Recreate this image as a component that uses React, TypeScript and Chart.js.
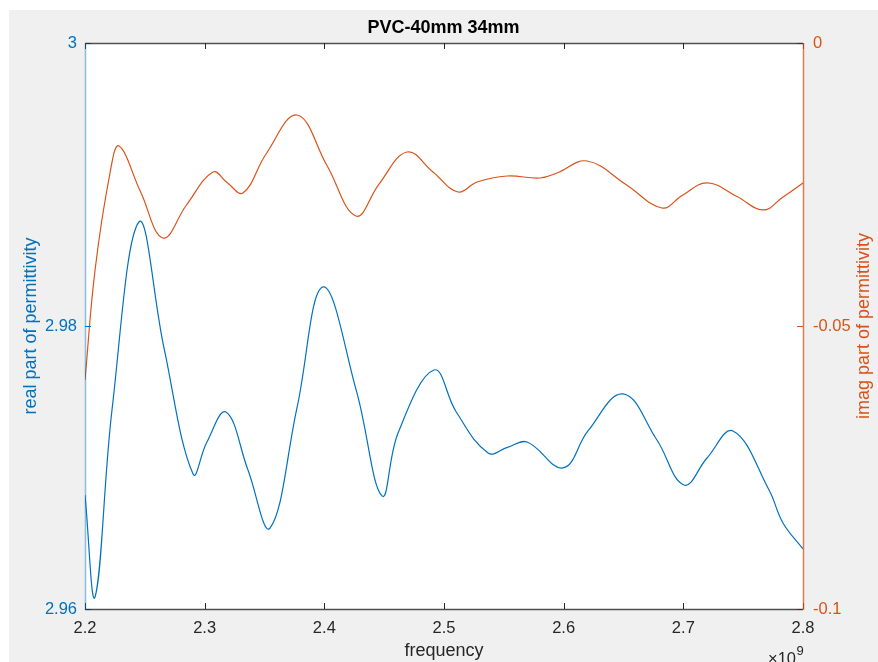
import { useEffect, useRef } from 'react';
import { Chart, registerables } from 'chart.js';

Chart.register(...registerables);

const TITLE = 'PVC-40mm 34mm';
const X_LABEL = 'frequency';
const Y_LEFT_LABEL = 'real part of permittivity';
const Y_RIGHT_LABEL = 'imag part of permittivity';

// frequency in units of 10^9 Hz (read at peaks, troughs and mid-crossings)
const realFreq = [2.2, 2.2084, 2.2226, 2.2451, 2.266, 2.2903, 2.3015, 2.3178, 2.3362, 2.3546, 2.3772, 2.3989, 2.4269, 2.4482, 2.4616, 2.4916, 2.51, 2.5368, 2.553, 2.5694, 2.5994, 2.6203, 2.6496, 2.6777, 2.7006, 2.7198, 2.7415, 2.7716, 2.7833, 2.8];
const realVals = [2.96806, 2.96085, 2.9741, 2.98735, 2.97845, 2.96954, 2.97173, 2.97392, 2.96982, 2.96572, 2.97424, 2.98276, 2.97538, 2.96799, 2.97244, 2.97689, 2.97396, 2.97103, 2.97142, 2.9718, 2.96997, 2.97258, 2.9752, 2.97198, 2.96876, 2.97067, 2.97258, 2.96841, 2.96608, 2.96424];

const imagFreq = [2.2, 2.2084, 2.2209, 2.2284, 2.2465, 2.2652, 2.2848, 2.307, 2.3187, 2.332, 2.3513, 2.3772, 2.4022, 2.4265, 2.4457, 2.4691, 2.4908, 2.5117, 2.5276, 2.5526, 2.5802, 2.5944, 2.6195, 2.652, 2.6822, 2.699, 2.7198, 2.7448, 2.7666, 2.7833, 2.8];
const imagVals = [-0.05954, -0.04011, -0.02297, -0.0182, -0.02633, -0.03445, -0.02862, -0.02279, -0.02465, -0.0265, -0.01961, -0.01272, -0.02165, -0.03057, -0.02492, -0.01926, -0.0228, -0.02633, -0.02456, -0.0235, -0.02385, -0.02297, -0.02085, -0.025, -0.02915, -0.02694, -0.02473, -0.02712, -0.0295, -0.02721, -0.02473];

const xTicks = [2.2, 2.3, 2.4, 2.5, 2.6, 2.7, 2.8];
const xTickLabels = ['2.2', '2.3', '2.4', '2.5', '2.6', '2.7', '2.8'];
const leftTicks = [2.96, 2.98, 3];
const leftTickLabels = ['2.96', '2.98', '3'];
const rightTicks = [-0.1, -0.05, 0];
const rightTickLabels = ['-0.1', '-0.05', '0'];
const X_EXP_BASE = '×10';
const X_EXP_POWER = '9';

const BLUE = '#0072BD';
const ORANGE = '#D95319';
const AXIS = '#262626';
const FONT = "'Liberation Sans', Arial, Helvetica, sans-serif";

function labelFor(values: number[], labels: string[], v: number) {
  let best = 0;
  for (let i = 0; i < values.length; i++) {
    if (Math.abs(values[i] - v) < Math.abs(values[best] - v)) best = i;
  }
  return labels[best];
}

const decor = {
  id: 'matlabDecor',
  beforeDraw(chart: any) {
    const { ctx, chartArea } = chart;
    ctx.save();
    ctx.fillStyle = '#ffffff';
    ctx.fillRect(chartArea.left, chartArea.top, chartArea.right - chartArea.left, chartArea.bottom - chartArea.top);
    ctx.restore();
  },
  afterDraw(chart: any) {
    const { ctx, chartArea, scales } = chart;
    const { left, right, top, bottom } = chartArea;
    ctx.save();
    ctx.lineWidth = 1;
    ctx.strokeStyle = AXIS;
    ctx.beginPath();
    for (const v of xTicks) {
      const px = Math.round(scales.x.getPixelForValue(v)) + 0.5;
      ctx.moveTo(px, bottom);
      ctx.lineTo(px, bottom - 6);
      ctx.moveTo(px, top);
      ctx.lineTo(px, top + 6);
    }
    ctx.stroke();
    ctx.strokeStyle = BLUE;
    ctx.beginPath();
    for (const v of leftTicks) {
      const py = Math.round(scales.y.getPixelForValue(v)) + 0.5;
      ctx.moveTo(left, py);
      ctx.lineTo(left + 6, py);
    }
    ctx.stroke();
    ctx.strokeStyle = ORANGE;
    ctx.beginPath();
    for (const v of rightTicks) {
      const py = Math.round(scales.y1.getPixelForValue(v)) + 0.5;
      ctx.moveTo(right, py);
      ctx.lineTo(right - 6, py);
    }
    ctx.stroke();
    ctx.lineWidth = 1.5;
    ctx.strokeStyle = 'rgba(38,38,38,0.8)';
    ctx.beginPath();
    ctx.moveTo(left, top + 0.5);
    ctx.lineTo(right, top + 0.5);
    ctx.moveTo(left, bottom + 0.5);
    ctx.lineTo(right, bottom + 0.5);
    ctx.stroke();
    ctx.strokeStyle = 'rgba(0,114,189,0.45)';
    ctx.beginPath();
    ctx.moveTo(left + 0.5, top);
    ctx.lineTo(left + 0.5, bottom + 1);
    ctx.stroke();
    ctx.strokeStyle = 'rgba(217,83,25,0.75)';
    ctx.beginPath();
    ctx.moveTo(right + 0.5, top);
    ctx.lineTo(right + 0.5, bottom + 1);
    ctx.stroke();

    const midY = (top + bottom) / 2;
    ctx.font = `18px ${FONT}`;
    ctx.textAlign = 'center';
    ctx.textBaseline = 'middle';
    ctx.fillStyle = BLUE;
    ctx.save();
    ctx.translate(22.5, midY);
    ctx.rotate(-Math.PI / 2);
    ctx.fillText(Y_LEFT_LABEL, 0, 0);
    ctx.restore();
    ctx.fillStyle = ORANGE;
    ctx.save();
    ctx.translate(855, midY);
    ctx.rotate(-Math.PI / 2);
    ctx.fillText(Y_RIGHT_LABEL, 0, 0);
    ctx.restore();
    ctx.fillStyle = AXIS;
    ctx.fillText(X_LABEL, (left + right) / 2, 641);

    ctx.textAlign = 'left';
    ctx.textBaseline = 'alphabetic';
    ctx.font = `16.5px ${FONT}`;
    const bx = 759;
    ctx.fillText(X_EXP_BASE, bx, 654);
    const w = ctx.measureText(X_EXP_BASE).width;
    ctx.font = `13px ${FONT}`;
    ctx.fillText(X_EXP_POWER, bx + w + 0.5, 645);
    ctx.restore();
  },
};

export default function App() {
  const ref = useRef<HTMLCanvasElement | null>(null);
  useEffect(() => {
    if (!ref.current) return;
    const chart = new Chart(ref.current, {
      type: 'line',
      data: {
        datasets: [
          {
            label: Y_LEFT_LABEL,
            data: realFreq.map((f, i) => ({ x: f, y: realVals[i] })),
            borderColor: BLUE,
            borderWidth: 1.2,
            pointRadius: 0,
            tension: 0.4,
            yAxisID: 'y',
            fill: false,
          },
          {
            label: Y_RIGHT_LABEL,
            data: imagFreq.map((f, i) => ({ x: f, y: imagVals[i] })),
            borderColor: ORANGE,
            borderWidth: 1.2,
            pointRadius: 0,
            tension: 0.4,
            yAxisID: 'y1',
            fill: false,
          },
        ],
      },
      options: {
        responsive: false,
        animation: false,
        events: [],
        layout: { padding: 0 },
        plugins: {
          legend: { display: false },
          tooltip: { enabled: false },
          title: {
            display: true,
            text: TITLE,
            color: '#000000',
            font: { family: FONT, size: 18, weight: 'bold', lineHeight: 1.2 },
            padding: { top: 7.2, bottom: 4.2 },
          },
        },
        scales: {
          x: {
            type: 'linear',
            position: 'bottom',
            min: 2.2,
            max: 2.8,
            afterBuildTicks: (s: any) => {
              s.ticks = xTicks.map((v) => ({ value: v }));
            },
            afterFit: (s: any) => {
              s.height = 53;
            },
            grid: { display: false, drawTicks: false },
            border: { display: false },
            ticks: {
              padding: 10,
              color: AXIS,
              maxRotation: 0,
              autoSkip: false,
              font: { family: FONT, size: 16.5 },
              callback: (v: any) => labelFor(xTicks, xTickLabels, Number(v)),
            },
          },
          y: {
            type: 'linear',
            position: 'left',
            min: 2.96,
            max: 3,
            afterBuildTicks: (s: any) => {
              s.ticks = leftTicks.map((v) => ({ value: v }));
            },
            afterFit: (s: any) => {
              s.width = 76;
            },
            grid: { display: false, drawTicks: false },
            border: { display: false },
            ticks: {
              padding: 8,
              color: BLUE,
              font: { family: FONT, size: 16.5 },
              callback: (v: any) => labelFor(leftTicks, leftTickLabels, Number(v)),
            },
          },
          y1: {
            type: 'linear',
            position: 'right',
            min: -0.1,
            max: 0,
            afterBuildTicks: (s: any) => {
              s.ticks = rightTicks.map((v) => ({ value: v }));
            },
            afterFit: (s: any) => {
              s.width = 75;
            },
            grid: { display: false, drawTicks: false },
            border: { display: false },
            ticks: {
              padding: 10,
              color: ORANGE,
              font: { family: FONT, size: 16.5 },
              callback: (v: any) => labelFor(rightTicks, rightTickLabels, Number(v)),
            },
          },
        },
      },
      plugins: [decor],
    } as any);
    return () => chart.destroy();
  }, []);

  return (
    <div
      style={{
        position: 'absolute',
        left: 9,
        top: 10,
        width: 869,
        height: 652,
        background: '#f0f0f0',
        overflow: 'hidden',
      }}
    >
      <canvas ref={ref} width={869} height={652} style={{ display: 'block', width: 869, height: 652 }} />
    </div>
  );
}
